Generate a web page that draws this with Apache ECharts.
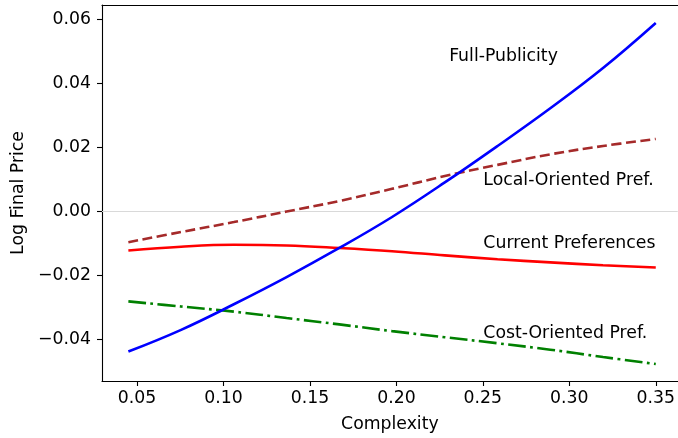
<!DOCTYPE html>
<html>
<head>
<meta charset="utf-8">
<script src="https://cdn.jsdelivr.net/npm/echarts@6/dist/echarts.min.js"></script>
<style>html,body{margin:0;padding:0;background:#fff}#c{width:678px;height:438px}</style>
</head>
<body>
<div id="c"></div>
<script>
// Data
const xTicks = [0.05, 0.10, 0.15, 0.20, 0.25, 0.30, 0.35];
const yTicks = [-0.04, -0.02, 0.00, 0.02, 0.04, 0.06];

const complexity = [0.045, 0.0755, 0.106, 0.1365, 0.167, 0.1975, 0.228, 0.2585, 0.289, 0.3195, 0.35];
const fullPublicity = [-0.0439, -0.0371, -0.0291, -0.0206, -0.0115, -0.0018, 0.0090, 0.0204, 0.0322, 0.0448, 0.0589];
const localOriented = [-0.0097, -0.0065, -0.0034, -0.0001, 0.0032, 0.0070, 0.0110, 0.0145, 0.0178, 0.0204, 0.0226];
const currentPref = [-0.0123, -0.0111, -0.0105, -0.0107, -0.0115, -0.0125, -0.0138, -0.0150, -0.0160, -0.0169, -0.0176];
const costOriented = [-0.0282, -0.0298, -0.0314, -0.0334, -0.0354, -0.0375, -0.0394, -0.0413, -0.0433, -0.0456, -0.0478];

const labelNames = ['Full-Publicity', 'Local-Oriented Pref.', 'Current Preferences', 'Cost-Oriented Pref.'];
const labelX = [0.2305, 0.2503, 0.2503, 0.2503];
const labelY = [0.0484, 0.0097, -0.0102, -0.0382];

const zip = (xs, ys) => xs.map((x, i) => [x, ys[i]]);
const fmt = v => (Math.abs(v) < 1e-9 ? '0.00' : v.toFixed(2)).replace('-', '\u2212');
const FONT = 'DejaVu Sans';
const FS = 17.3;

const chart = echarts.init(document.getElementById('c'), null, {renderer: 'canvas'});
chart.setOption({
  animation: false,
  backgroundColor: '#fff',
  grid: {left: 102, right: 0, top: 5, bottom: 57, show: false},
  xAxis: [{
    type: 'value', min: 0.02975, max: 0.3627,
    name: 'Complexity', nameLocation: 'middle', nameGap: 35,
    nameTextStyle: {fontFamily: FONT, fontSize: FS, color: '#000'},
    axisLine: {show: true, onZero: false, lineStyle: {color: '#000', width: 1.1}},
    axisTick: {show: true, inside: false, length: 5, lineStyle: {color: '#000', width: 1.1}, customValues: xTicks},
    axisLabel: {show: true, margin: 9, fontFamily: FONT, fontSize: FS, color: '#000', customValues: xTicks, formatter: v => v.toFixed(2)},
    splitLine: {show: false}
  }, {
    type: 'value', position: 'top', min: 0.02975, max: 0.3627,
    axisLine: {show: true, onZero: false, lineStyle: {color: '#000', width: 1.1}},
    axisTick: {show: false}, axisLabel: {show: false}, splitLine: {show: false}
  }],
  yAxis: {
    type: 'value', min: -0.0531, max: 0.0645,
    name: 'Log Final Price', nameLocation: 'middle', nameGap: 74, nameRotate: 90,
    nameTextStyle: {fontFamily: FONT, fontSize: FS, color: '#000'},
    axisLine: {show: true, onZero: false, lineStyle: {color: '#000', width: 1.1}},
    axisTick: {show: true, inside: false, length: 5, lineStyle: {color: '#000', width: 1.1}, customValues: yTicks},
    axisLabel: {show: true, margin: 11, fontFamily: FONT, fontSize: FS, color: '#000', customValues: yTicks, formatter: fmt},
    splitLine: {show: false}
  },
  series: [
    {
      type: 'line', name: 'Full-Publicity', data: zip(complexity, fullPublicity), smooth: 0.4, showSymbol: false,
      lineStyle: {color: '#0000ff', width: 2.6}, z: 5,
      markLine: {silent: true, symbol: 'none', label: {show: false}, lineStyle: {color: '#d9d9d9', width: 1, type: 'solid'}, data: [{yAxis: 0}], z: 1}
    },
    {
      type: 'line', name: 'Local-Oriented Pref.', data: zip(complexity, localOriented), smooth: 0.4, showSymbol: false,
      lineStyle: {color: '#a52a2a', width: 2.6, type: [10, 4.5]}, z: 4
    },
    {
      type: 'line', name: 'Current Preferences', data: zip(complexity, currentPref), smooth: 0.4, showSymbol: false,
      lineStyle: {color: '#ff0000', width: 2.6}, z: 4
    },
    {
      type: 'line', name: 'Cost-Oriented Pref.', data: zip(complexity, costOriented), smooth: 0.4, showSymbol: false,
      lineStyle: {color: '#008000', width: 2.6, type: [17.8, 4.4, 2.8, 4.4]}, z: 4
    },
    {
      type: 'scatter', symbolSize: 0, silent: true,
      itemStyle: {opacity: 1},
      data: labelNames.map((n, i) => ({value: [labelX[i], labelY[i]], name: n})),
      label: {show: true, position: 'right', distance: 0, align: 'left', verticalAlign: 'middle', opacity: 1,
        formatter: p => p.name, fontFamily: FONT, fontSize: FS, color: '#000'}
    }
  ]
});
</script>
</body>
</html>
